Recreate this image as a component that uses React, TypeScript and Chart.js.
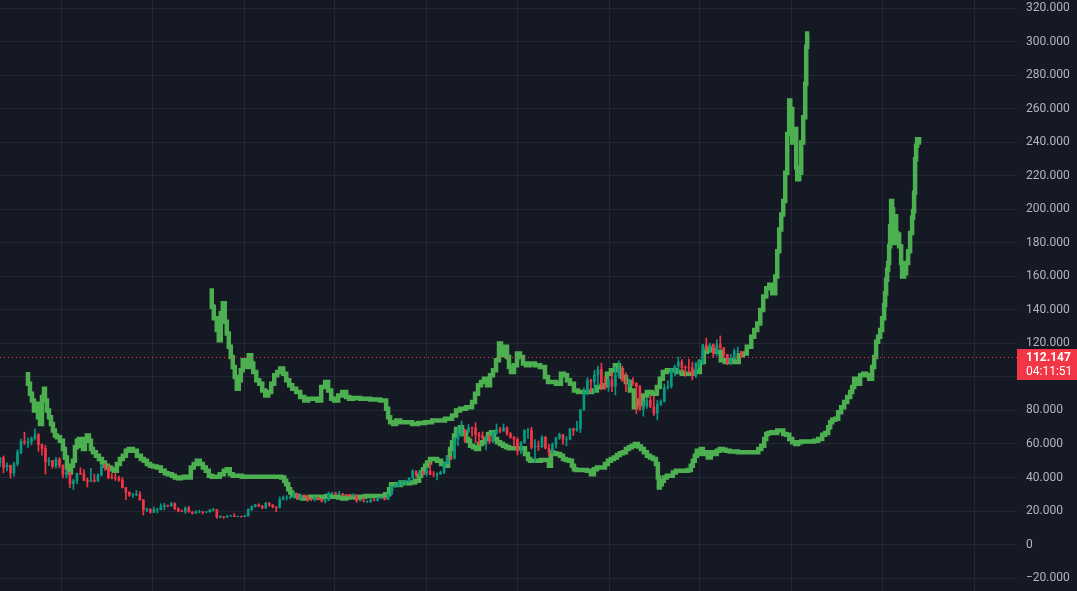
import React, { useEffect, useRef } from 'react';
import { Chart, registerables } from 'chart.js';

Chart.register(...registerables);

// ---------- data ----------
const START_DATE = '2021-08-30'; // first weekly candle
const FIRST_OPEN = 48.9;

// weekly candles (thousands USD)
const weeklyClose = [
  51.8, 46.1, 47.3, 42.8, 48.2, 54.9, 61.5, 60.9, 61.3, 63.3, 65.5, 59.7, 57.3, 49.4, 50.1, 46.7, 50.8, 47.3,
  41.8, 43.1, 36.3, 37.9, 42.4, 42.2, 38.4, 37.7, 38.4, 37.8, 41.3, 46.8, 46.4, 40.0, 39.7, 39.5, 38.5, 34.0,
  31.3, 29.5, 29.5, 29.9, 26.6, 20.6, 21.0, 19.3, 20.8, 20.8, 22.6, 23.3, 23.1, 24.4, 21.5, 20.0, 19.8, 21.8,
  19.4, 18.8, 19.3, 19.4, 19.2, 19.6, 20.6, 20.9, 16.3, 16.7, 16.5, 17.1, 17.1, 16.8, 16.8, 16.6,
  17.1, 20.9, 22.7, 23.7, 22.9, 21.8, 24.6, 23.5, 22.4, 22.1, 26.9, 27.9, 28.0, 28.3, 30.3, 27.6, 29.3, 28.9,
  26.9, 26.8, 28.0, 27.1, 25.8, 26.3, 30.5, 30.6, 30.2, 30.3, 29.9, 29.3, 29.1, 29.3, 26.1, 26.1, 25.8, 25.8,
  26.5, 26.3, 27.9, 27.9, 26.9, 30.0, 34.5, 35.0, 37.1, 37.4, 37.8, 39.5, 43.8, 41.9, 43.0, 42.3,
  43.9, 41.7, 41.6, 42.0, 43.0, 48.3, 52.1, 51.7, 63.1, 68.4, 68.4, 67.2, 69.6, 69.4, 65.7, 64.9, 63.4, 63.9,
  61.5, 66.3, 68.5, 67.8, 69.6, 66.2, 64.2, 62.8, 55.8, 60.8, 68.2, 68.3, 58.1, 58.7, 58.4, 64.1, 57.4, 54.8,
  60.0, 63.6, 65.6, 62.8, 62.9, 69.0, 68.0, 69.4, 80.4, 90.6, 97.9, 97.2, 101.2, 104.5, 95.2, 93.7, 98.3,
  94.5, 101.1, 104.8, 97.7, 96.5, 97.6, 96.3, 94.3, 80.7, 82.6, 86.1, 82.3, 78.4, 83.8, 85.2, 93.7, 94.3,
  104.6, 106.5, 109.0, 105.7, 105.6, 105.5, 100.9, 108.4, 109.2, 119.1, 117.3, 119.4, 114.2, 119.3, 117.4,
  113.5, 108.2, 111.1, 115.3, 115.3, 112.147,
];
const weeklyHigh = [
  52.0, 52.9, 48.8, 47.4, 49.2, 56.5, 62.9, 67.0, 63.7, 64.2, 69.0, 66.3, 59.9, 59.2, 51.9, 50.2, 51.9, 52.0,
  47.6, 44.5, 43.5, 38.9, 42.7, 45.8, 44.7, 39.8, 45.4, 42.0, 42.3, 47.5, 48.2, 47.2, 42.4, 42.9, 40.8, 40.0,
  34.2, 31.4, 30.6, 32.2, 31.6, 26.9, 21.9, 21.5, 22.5, 21.6, 24.3, 24.6, 23.6, 25.2, 25.0, 21.9, 20.6, 22.5,
  22.8, 19.7, 20.3, 20.5, 19.9, 19.7, 21.0, 21.5, 21.0, 17.2, 16.8, 17.3, 17.4, 18.4, 17.0, 16.9,
  17.2, 21.4, 23.1, 23.9, 24.3, 23.4, 25.2, 25.1, 23.9, 22.6, 28.4, 28.9, 29.2, 28.8, 31.0, 30.5, 30.0, 29.8,
  29.0, 27.6, 28.4, 28.4, 27.2, 26.8, 31.4, 31.3, 31.3, 31.8, 30.4, 30.0, 30.0, 30.2, 29.7, 26.8, 28.1, 26.2,
  27.4, 27.5, 28.1, 28.6, 28.0, 30.4, 35.2, 35.9, 38.0, 37.9, 38.4, 39.9, 44.7, 44.0, 44.4, 43.9,
  45.9, 49.0, 43.6, 42.8, 43.9, 48.6, 52.8, 52.5, 64.0, 70.2, 73.8, 68.9, 71.7, 70.3, 72.8, 66.9, 67.2, 64.7,
  65.5, 67.5, 71.9, 70.0, 71.9, 70.2, 66.9, 64.4, 63.8, 61.4, 68.5, 69.4, 70.0, 62.7, 61.8, 65.0, 64.5, 59.8,
  60.6, 64.1, 66.5, 65.7, 64.5, 69.4, 69.5, 73.6, 80.5, 93.5, 99.6, 98.7, 104.0, 106.5, 108.3, 99.9, 99.0,
  102.7, 106.0, 109.6, 106.5, 102.5, 98.8, 99.5, 96.5, 95.0, 85.3, 87.5, 88.8, 88.5, 86.1, 86.4, 95.8, 97.9,
  104.9, 107.1, 111.9, 110.4, 106.8, 110.6, 108.9, 108.5, 110.5, 119.5, 123.2, 120.2, 119.8, 122.3, 124.5,
  117.6, 113.6, 113.4, 116.8, 117.9, 115.4,
];
const weeklyLow = [
  46.5, 42.8, 44.0, 39.6, 40.8, 46.9, 54.1, 59.7, 57.9, 59.5, 62.3, 55.6, 53.3, 42.0, 47.1, 45.5, 45.6, 45.7,
  39.7, 39.6, 34.0, 32.9, 36.3, 41.7, 37.9, 34.3, 37.5, 37.2, 37.6, 40.9, 44.2, 39.2, 39.2, 38.2, 37.7, 33.7,
  26.7, 28.7, 28.0, 29.3, 26.6, 17.6, 19.6, 18.6, 19.0, 18.9, 20.7, 20.7, 22.4, 22.7, 20.8, 19.5, 19.5, 18.5,
  19.3, 18.1, 18.5, 19.0, 18.2, 18.9, 19.2, 20.0, 15.6, 16.0, 15.5, 16.0, 16.8, 16.6, 16.5, 16.3,
  16.5, 17.0, 20.4, 22.3, 22.6, 21.4, 21.5, 22.8, 21.9, 19.6, 21.9, 26.6, 26.5, 27.2, 28.2, 27.1, 27.0, 27.7,
  25.8, 26.1, 25.9, 26.5, 25.3, 24.8, 26.2, 29.9, 29.8, 29.9, 29.5, 29.0, 28.6, 28.7, 25.2, 25.8, 25.4, 24.9,
  25.0, 26.0, 26.0, 27.2, 26.5, 26.8, 29.9, 33.9, 34.5, 35.0, 35.7, 37.0, 39.4, 40.2, 40.6, 41.5,
  40.8, 41.5, 40.5, 38.5, 41.8, 42.3, 48.2, 50.6, 50.9, 59.0, 64.5, 60.8, 66.9, 64.5, 60.7, 59.6, 62.8, 56.5,
  60.2, 60.8, 66.0, 66.6, 67.6, 65.1, 63.4, 58.4, 53.5, 54.3, 60.6, 63.4, 57.0, 49.1, 56.1, 57.8, 57.1, 52.6,
  54.6, 57.5, 62.7, 59.8, 58.9, 62.4, 65.1, 67.5, 66.8, 80.2, 89.4, 90.8, 90.5, 94.2, 92.2, 92.5, 91.4,
  91.2, 89.3, 99.5, 97.5, 91.2, 94.1, 94.9, 78.2, 80.0, 76.6, 81.2, 81.6, 77.1, 74.4, 83.1, 85.1, 92.9,
  93.4, 100.7, 102.1, 103.1, 100.4, 102.6, 98.2, 99.6, 105.1, 107.5, 115.7, 114.7, 112.0, 112.7, 116.9,
  111.7, 107.3, 107.3, 110.6, 114.4, 111.9,
];

// green projection A (days since START_DATE, value in thousands)
const projectionADays = [
  424, 428, 434, 438, 442, 446, 450, 454, 458, 462, 466, 470, 474, 478, 482, 486, 492, 498, 503, 507, 513, 519,
  525, 531, 537, 543, 549, 555, 561, 567, 573, 579, 585, 593, 601, 609, 617, 625, 635, 643, 651, 657, 663, 669,
  677, 685, 693, 699, 707, 721, 741, 761, 773, 777, 781, 787, 793, 801, 811, 825, 837, 851, 865, 877, 891, 905,
  913, 921, 933, 945, 951, 957, 963, 969, 975, 981, 987, 993, 999, 1003, 1007, 1011, 1015, 1019, 1023, 1029,
  1035, 1041, 1047, 1053, 1061, 1071, 1081, 1091, 1097, 1103, 1113, 1123, 1129, 1135, 1141, 1149, 1157, 1165,
  1175, 1185, 1195, 1205, 1215, 1223, 1231, 1239, 1245, 1253, 1261, 1269, 1273, 1279, 1287, 1295, 1305, 1315,
  1321, 1327, 1335, 1345, 1355, 1365, 1377, 1389, 1401, 1409, 1415, 1423, 1433, 1443, 1451, 1459, 1469, 1479,
  1487, 1495, 1504, 1510, 1516, 1522, 1528, 1534, 1540, 1546, 1552, 1556, 1560, 1564, 1568, 1572, 1576, 1580,
  1582, 1586, 1590, 1594, 1596, 1600, 1604, 1608, 1612, 1614, 1616, 1620,
];
const projectionAValues = [
  153, 142, 135, 128, 122, 138, 144, 133, 126, 118, 112, 106, 100, 93, 98, 104, 110, 106, 113, 108, 103, 98,
  96, 92, 89, 91, 96, 101, 103, 105, 102, 98, 95, 93, 91, 88, 86, 87, 87, 86, 94, 97, 92, 87,
  86, 89, 91, 88, 87, 87.5, 87, 86.5, 86, 81, 76, 73, 72, 74, 73, 73, 72, 72.5, 73, 74, 74, 75,
  77, 80, 81, 82, 85, 90, 95, 97, 99, 95, 101, 104, 110, 120, 117, 113, 118, 112, 106, 103,
  107, 114, 112, 108, 107, 108, 107, 106, 100, 97, 97, 96, 102, 101, 98, 96, 92, 91,
  91, 91, 92, 94, 95, 102, 104, 107, 104, 100, 97, 92, 82, 86, 84, 89, 91, 90,
  94, 99, 103, 104, 104, 103, 102, 102, 103, 109, 115, 117, 116, 115, 110, 109, 110, 109,
  113, 114, 118, 124, 128, 132, 140, 148, 153, 155, 150, 160, 175, 188, 197, 205, 222, 245,
  265, 260, 240, 248, 225, 218, 222, 240, 255, 275, 297, 305,
];

// green projection B
const projectionBDays = [
  56, 60, 64, 68, 72, 76, 80, 84, 88, 90, 94, 98, 102, 106, 110, 114, 120, 126, 130, 134, 138, 142, 146, 150,
  154, 158, 162, 166, 170, 174, 178, 182, 186, 192, 198, 204, 210, 216, 222, 228, 234, 240, 246, 252, 258, 266,
  274, 282, 288, 294, 300, 306, 314, 322, 330, 336, 344, 350, 356, 362, 368, 376, 382, 388, 394, 400, 406, 412,
  418, 424, 432, 440, 448, 454, 460, 466, 474, 484, 494, 504, 517, 529, 541, 553, 563, 569, 573, 577, 581, 585,
  591, 597, 605, 613, 621, 629, 637, 645, 653, 661, 669, 677, 685, 693, 701, 711, 721, 731, 741, 751, 761, 771,
  779, 783, 787, 795, 803, 811, 821, 831, 839, 843, 847, 851, 855, 861, 867, 875, 883, 891, 897, 901, 905, 909,
  913, 917, 921, 925, 929, 933, 937, 941, 947, 953, 959, 965, 971, 977, 983, 989, 995, 1001, 1007, 1013, 1019,
  1025, 1033, 1041, 1051, 1057, 1061, 1067, 1075, 1083, 1091, 1099, 1103, 1107, 1113, 1121, 1127, 1133, 1139,
  1145, 1149, 1153, 1159, 1167, 1175, 1183, 1189, 1195, 1203, 1211, 1217, 1223, 1229, 1235, 1241, 1247, 1253,
  1259, 1265, 1271, 1277, 1283, 1289, 1295, 1301, 1307, 1313, 1317, 1319, 1321, 1325, 1329, 1335, 1341, 1347,
  1353, 1359, 1365, 1371, 1377, 1383, 1387, 1391, 1395, 1399, 1403, 1407, 1411, 1417, 1423, 1429, 1435, 1441,
  1447, 1453, 1461, 1469, 1477, 1485, 1493, 1502, 1510, 1518, 1524, 1530, 1534, 1538, 1544, 1550, 1556, 1562,
  1568, 1574, 1580, 1586, 1592, 1598, 1604, 1610, 1616, 1622, 1630, 1638, 1646, 1652, 1658, 1662, 1666, 1672,
  1678, 1684, 1690, 1696, 1702, 1706, 1710, 1714, 1718, 1722, 1728, 1734, 1740, 1746, 1750, 1754, 1758, 1762,
  1766, 1770, 1772, 1774, 1776, 1778, 1780, 1782, 1784, 1786, 1788, 1790, 1792, 1794, 1796, 1800, 1804, 1806,
  1810, 1814, 1818, 1822, 1826, 1828, 1830, 1832, 1834, 1836, 1840, 1844,
];
const projectionBValues = [
  103, 96, 90, 86, 80, 84, 76, 72, 88, 93, 86, 80, 76, 72, 68, 65, 64, 62, 57, 52, 46, 43, 47, 50,
  58, 62, 63, 59, 57, 63, 65, 62, 57, 55, 53, 51, 49, 47, 46, 45, 44, 48, 51, 53, 56, 57,
  56, 53, 51, 50, 48, 47, 46.5, 46, 44, 42.5, 42, 41, 40, 39.5, 40, 40.5, 40, 46, 48, 50, 48, 46,
  44, 41, 40.5, 40.5, 42, 44, 45, 42, 41, 41, 40.5, 40.5, 40.5, 40.5, 40.5, 40.5, 40.5, 40, 38, 36, 33, 31,
  29.5, 29, 28, 27.5, 28, 28.5, 28.5, 28, 28.5, 29, 28.5, 28.5, 28, 27.5, 28, 28.5, 28, 28.5, 29, 29, 29, 29,
  30, 33, 36, 36, 35.5, 37, 36.5, 37, 38, 41, 43, 45, 47, 49, 51, 51, 50, 48, 47, 52, 57, 61,
  65, 69, 67, 70, 66, 67, 63, 62, 59, 58, 57, 60, 61, 63, 66, 67, 63, 61, 60, 59, 58,
  57.5, 57.5, 57.5, 57.5, 54, 51, 50, 50, 50, 50.5, 50.5, 47, 55, 54.5, 54, 53, 51, 50.5,
  50, 47, 45, 44.5, 44.5, 44.5, 44, 42, 45, 46, 46, 48, 50, 51, 52, 53.5, 54.5, 55,
  57, 58, 59, 60, 58.5, 57, 55, 53, 52, 51, 48, 40, 34, 36, 38, 40, 41, 41,
  43, 44, 44, 44, 44, 44.5, 47, 50, 53, 56, 54, 57, 54, 55, 52, 55, 54, 56,
  57, 56.5, 56, 55.5, 55.5, 55, 55, 55, 55, 55, 57, 59, 63, 66, 66.5, 67, 66.5, 68,
  68, 66, 65.5, 63, 61, 60, 61, 61.5, 61.5, 61.5, 61.5, 62, 63, 65.5, 66.5, 70, 73, 74.5,
  75, 79, 82, 85, 88, 91, 94, 99, 97, 96, 101, 102, 101, 99, 106, 112, 121, 124,
  128, 135, 143, 150, 158, 164, 168, 178, 190, 205, 200, 192, 180, 196, 186, 185, 178, 168,
  160, 162, 168, 175, 186, 195, 199, 210, 230, 238, 242, 240,
];

const gridDates = [
  '2022-01-01', '2022-07-01', '2023-01-01', '2023-07-01', '2024-01-01', '2024-07-01',
  '2025-01-01', '2025-07-01', '2026-01-01', '2026-07-01', '2027-01-01',
];
const priceTicks = [-20, 0, 20, 40, 60, 80, 100, 120, 140, 160, 180, 200, 220, 240, 260, 280, 300, 320];
const LAST_PRICE = 112.147;
const COUNTDOWN = '04:11:51';

const X_MIN = 0;
const X_MAX = 2036;
const Y_MIN = -27.76;
const Y_MAX = 325.07;

// ---------- styles ----------
const BG = '#151924';
const GRID = '#242835';
const TEXT = '#b2b5be';
const UP = '#089981';
const DOWN = '#f23645';
const GREEN = '#4caf50';
const FONT = 'Roboto, "Noto Sans", sans-serif';

const DAY_MS = 86400000;
const startMs = Date.parse(START_DATE);
const gridDays = gridDates.map((d) => (Date.parse(d) - startMs) / DAY_MS);

const fmtPrice = (v: number) =>
  v === 0 ? '0' : (v < 0 ? '\u2212' : '') + Math.abs(v).toFixed(0) + '.000';

const opens = weeklyClose.map((c, i) => (i === 0 ? FIRST_OPEN : weeklyClose[i - 1]));
const candleDays = weeklyClose.map((_, i) => i * 7);
const candleColors = weeklyClose.map((c, i) => (c >= opens[i] ? UP : DOWN));
const wickData = candleDays.map((d, i) => ({ x: d, y: [weeklyLow[i], weeklyHigh[i]] }));
const bodyData = candleDays.map((d, i) => ({ x: d, y: [opens[i], weeklyClose[i]] }));
const projA = projectionADays.map((d, i) => ({ x: d, y: projectionAValues[i] }));
const projB = projectionBDays.map((d, i) => ({ x: d, y: projectionBValues[i] }));

const priceLinePlugin = {
  id: 'priceLine',
  beforeDraw(chart: any) {
    const { ctx, width, height } = chart;
    ctx.save();
    ctx.fillStyle = BG;
    ctx.fillRect(0, 0, width, height);
    ctx.restore();
  },
  afterDatasetsDraw(chart: any) {
    const { ctx, chartArea, scales } = chart;
    const y = Math.round(scales.y.getPixelForValue(LAST_PRICE)) + 0.5;
    ctx.save();
    ctx.strokeStyle = DOWN;
    ctx.lineWidth = 1;
    ctx.setLineDash([1, 3]);
    ctx.beginPath();
    ctx.moveTo(chartArea.left, y);
    ctx.lineTo(chartArea.right, y);
    ctx.stroke();
    ctx.restore();
  },
  afterDraw(chart: any) {
    const { ctx, chartArea, scales, width } = chart;
    const y = scales.y.getPixelForValue(LAST_PRICE);
    const top = Math.round(y - 8);
    ctx.save();
    ctx.fillStyle = DOWN;
    ctx.fillRect(chartArea.right, top, width - chartArea.right, 31);
    ctx.fillStyle = '#ffffff';
    ctx.textAlign = 'left';
    ctx.textBaseline = 'middle';
    ctx.font = `bold 12px ${FONT}`;
    ctx.fillText(LAST_PRICE.toFixed(3), chartArea.right + 9, top + 8.5);
    ctx.font = `12px ${FONT}`;
    ctx.fillText(COUNTDOWN, chartArea.right + 9, top + 23);
    ctx.restore();
  },
};

export default function App() {
  const canvasRef = useRef<HTMLCanvasElement>(null);

  useEffect(() => {
    const canvas = canvasRef.current;
    if (!canvas) return;
    const chart = new Chart(canvas, {
      type: 'bar',
      data: {
        datasets: [
          {
            type: 'bar',
            label: 'body',
            data: bodyData as any,
            backgroundColor: candleColors,
            borderWidth: 0,
            barThickness: 2,
            grouped: false,
            order: 0,
          } as any,
          {
            type: 'bar',
            label: 'wick',
            data: wickData as any,
            backgroundColor: candleColors,
            borderWidth: 0,
            barThickness: 1,
            grouped: false,
            order: 1,
          } as any,
          {
            type: 'line',
            label: 'projection A',
            data: projA as any,
            borderColor: GREEN,
            borderWidth: 4.5,
            stepped: 'after',
            pointRadius: 0,
            fill: false,
            order: 2,
          } as any,
          {
            type: 'line',
            label: 'projection B',
            data: projB as any,
            borderColor: GREEN,
            borderWidth: 4.5,
            stepped: 'after',
            pointRadius: 0,
            fill: false,
            order: 3,
          } as any,
        ],
      },
      options: {
        responsive: false,
        animation: false,
        devicePixelRatio: 1,
        layout: { padding: 0 },
        plugins: { legend: { display: false }, tooltip: { enabled: false } },
        events: [],
        scales: {
          x: {
            type: 'linear',
            min: X_MIN,
            max: X_MAX,
            offset: false,
            grid: { color: GRID, drawTicks: false, offset: false },
            border: { display: false },
            ticks: { display: false },
            afterBuildTicks: (scale: any) => {
              scale.ticks = gridDays.map((v) => ({ value: v }));
            },
          },
          y: {
            type: 'linear',
            position: 'right',
            min: Y_MIN,
            max: Y_MAX,
            grid: { color: GRID, drawTicks: false },
            border: { display: false },
            ticks: {
              color: TEXT,
              font: { family: FONT, size: 12 },
              padding: 9,
              callback: (v: any) => fmtPrice(Number(v)),
            },
            afterBuildTicks: (scale: any) => {
              scale.ticks = priceTicks.map((v) => ({ value: v }));
            },
            afterFit: (scale: any) => {
              scale.width = 60;
              scale.paddingTop = 0;
              scale.paddingBottom = 0;
            },
          },
        },
      } as any,
      plugins: [priceLinePlugin],
    });
    return () => chart.destroy();
  }, []);

  return (
    <div style={{ position: 'fixed', left: 0, top: 0, width: 1077, height: 591, background: BG }}>
      <canvas ref={canvasRef} width={1077} height={591} style={{ display: 'block', width: 1077, height: 591 }} />
    </div>
  );
}
